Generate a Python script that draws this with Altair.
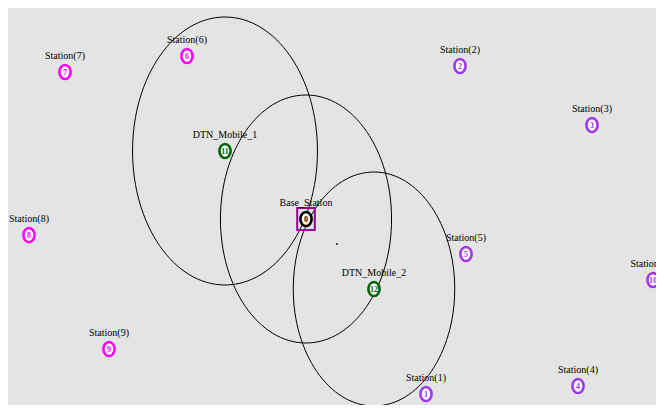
import altair as alt
import pandas as pd

# ---- data (screen coordinates in pixels) ----
node_ids = [0, 1, 2, 3, 4, 5, 6, 7, 8, 9, 10, 11, 12]
node_names = ["Base_Station", "Station(1)", "Station(2)", "Station(3)", "Station(4)",
              "Station(5)", "Station(6)", "Station(7)", "Station(8)", "Station(9)",
              "Station(10)", "DTN_Mobile_1", "DTN_Mobile_2"]
node_x = [306, 426, 460, 592, 578, 466, 187, 65, 29, 109, 653, 225, 374]
node_y = [219, 394, 66, 125, 386, 254, 56, 72, 235, 349, 280, 151, 289]
node_group = ["base", "east", "east", "east", "east", "east", "west", "west",
              "west", "west", "east", "mobile", "mobile"]

group_domain = ["base", "east", "west", "mobile"]
group_colors = ["#000000", "#a035f0", "#ff00ff", "#006400"]

# transmission ranges (vertical radius, pixels) around these nodes
range_center_ids = [11, 0, 12]
range_radius = [134, 124, 117]

# stray marker
dot_x = [337]
dot_y = [244]

W, H = 648, 397


def ellipse_path(a):
    k = 0.5523
    ak = a * k
    return (f"M 0 -1 C {ak:.3f} -1 {a:.3f} {-k:.3f} {a:.3f} 0 "
            f"C {a:.3f} {k:.3f} {ak:.3f} 1 0 1 "
            f"C {-ak:.3f} 1 {-a:.3f} {k:.3f} {-a:.3f} 0 "
            f"C {-a:.3f} {-k:.3f} {-ak:.3f} -1 0 -1 Z")


nodes = pd.DataFrame({"id": node_ids, "name": node_names, "x": node_x,
                      "y": node_y, "group": node_group})
nodes["digit"] = nodes["id"].astype(str)

ranges = pd.DataFrame({
    "x": [node_x[node_ids.index(i)] for i in range_center_ids],
    "y": [node_y[node_ids.index(i)] for i in range_center_ids],
    "r": range_radius,
})

dots = pd.DataFrame({"x": dot_x, "y": dot_y})

xs = alt.Scale(domain=[8, 8 + W], range=[0, W])
ys = alt.Scale(domain=[8, 8 + H], range=[0, H])
X = alt.X("x:Q", scale=xs, axis=None)
Y = alt.Y("y:Q", scale=ys, axis=None)
col = alt.Color("group:N", scale=alt.Scale(domain=group_domain, range=group_colors), legend=None)

range_layer = alt.Chart(ranges).transform_calculate(
    size="4 * datum.r * datum.r"
).mark_point(shape=ellipse_path(0.69), filled=False, stroke="black",
             strokeWidth=1, opacity=1, clip=True).encode(
    x=X, y=Y, size=alt.Size("size:Q", scale=None)
)

base = nodes[nodes["group"] == "base"]
square_layer = alt.Chart(base).mark_point(
    shape="M -0.8 -1 L 0.8 -1 L 0.8 1 L -0.8 1 Z", filled=False,
    stroke="#990099", strokeWidth=2, size=484, opacity=1
).encode(x=X, y=Y)

node_layer = alt.Chart(nodes).mark_point(
    shape=ellipse_path(0.8), fill="white", strokeWidth=2.6, size=196,
    opacity=1, fillOpacity=1, clip=True
).encode(x=X, y=Y, stroke=alt.Stroke("group:N",
         scale=alt.Scale(domain=group_domain, range=group_colors), legend=None))

digit_layer = alt.Chart(nodes).mark_text(
    font="Liberation Serif", fontSize=8, fontWeight="bold", baseline="middle",
    align="center", dy=0.5, clip=True
).encode(x=X, y=Y, text="digit:N", color=col)

label_layer = alt.Chart(nodes).mark_text(
    font="Liberation Serif", fontSize=10, baseline="middle", align="center",
    dy=-16, color="black", clip=True
).encode(x=X, y=Y, text="name:N")

dot_layer = alt.Chart(dots).mark_square(size=3, color="black", opacity=1).encode(x=X, y=Y)

chart = alt.layer(
    range_layer, square_layer, node_layer, digit_layer, label_layer, dot_layer
).properties(
    width=W, height=H, padding=0,
    autosize=alt.AutoSizeParams(type="none"),
    background="white"
).configure_view(
    fill="#e4e4e4", stroke=None
)

chart.save("out.html", embed_options={"renderer": "svg", "actions": False})
